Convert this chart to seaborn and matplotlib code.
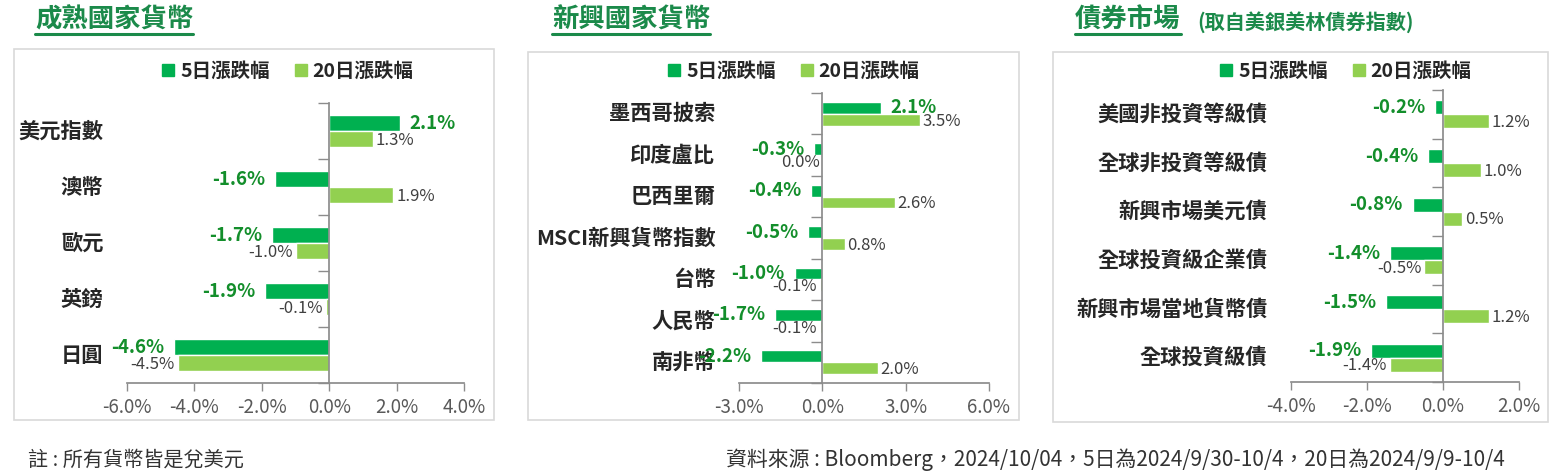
import matplotlib
matplotlib.use("Agg")
import matplotlib.pyplot as plt
import seaborn as sns
import pandas as pd
from matplotlib.lines import Line2D
from matplotlib.patches import Rectangle
from matplotlib.ticker import FuncFormatter, FixedLocator
import matplotlib.transforms as mtransforms

# ------------------------
# Dados
# ------------------------
SERIES = ["5日漲跌幅", "20日漲跌幅"]

dev_names = ["美元指數", "澳幣", "歐元", "英鎊", "日圓"]
dev_5d = [2.1, -1.6, -1.7, -1.9, -4.6]
dev_20d = [1.3, 1.9, -1.0, -0.1, -4.5]

em_names = ["墨西哥披索", "印度盧比", "巴西里爾", "MSCI新興貨幣指數", "台幣", "人民幣", "南非幣"]
em_5d = [2.1, -0.3, -0.4, -0.5, -1.0, -1.7, -2.2]
em_20d = [3.5, 0.0, 2.6, 0.8, -0.1, -0.1, 2.0]

bond_names = ["美國非投資等級債", "全球非投資等級債", "新興市場美元債", "全球投資級企業債",
              "新興市場當地貨幣債", "全球投資級債"]
bond_5d = [-0.2, -0.4, -0.8, -1.4, -1.5, -1.9]
bond_20d = [1.2, 1.0, 0.5, -0.5, 1.2, -1.4]

TITLES = ["成熟國家貨幣", "新興國家貨幣", "債券市場"]
SUBTITLE = "(取自美銀美林債券指數)"
NOTE_LEFT = "註 : 所有貨幣皆是兌美元"
NOTE_RIGHT = "資料來源 : Bloomberg，2024/10/04，5日為2024/9/30-10/4，20日為2024/9/9-10/4"

# ------------------------
# Estilo
# ------------------------
C5 = "#00b050"
C20 = "#92d050"
LBL_GREEN = "#138e2b"
TITLE_GREEN = "#1b8a4a"
AXIS_GREY = "#8c8c8c"
FRAME_GREY = "#d9d9d9"

sns.set_theme(style="white")
plt.rcParams["font.family"] = ["Noto Sans CJK TC", "DejaVu Sans"]

W, H = 1554, 474
fig = plt.figure(figsize=(W / 100, H / 100), dpi=100)


def px_rect(l, t, r, b):
    return [l / W, 1 - b / H, (r - l) / W, (b - t) / H]


PANELS = [
    dict(names=dev_names, v5=dev_5d, v20=dev_20d, xlim=(-6, 4), step=2,
         ax=px_rect(127, 103, 464, 383), frame=(14, 49, 494, 420),
         title_x=35, legend_x=287),
    dict(names=em_names, v5=em_5d, v20=em_20d, xlim=(-3, 6), step=3,
         ax=px_rect(739, 93, 989, 383), frame=(528, 52, 1019, 420),
         title_x=552, legend_x=793),
    dict(names=bond_names, v5=bond_5d, v20=bond_20d, xlim=(-4, 2), step=2,
         ax=px_rect(1291, 90, 1519, 382), frame=(1053, 52, 1548, 422),
         title_x=1075, legend_x=1345),
]


def draw_panel(p):
    n = len(p["names"])
    df = pd.DataFrame({
        "cat": p["names"] * 2,
        "val": list(p["v5"]) + list(p["v20"]),
        "serie": [SERIES[0]] * n + [SERIES[1]] * n,
    })
    ax = fig.add_axes(p["ax"])
    sns.barplot(data=df, y="cat", x="val", hue="serie", orient="h",
                palette=[C5, C20], width=0.57, gap=0, ax=ax,
                saturation=1, legend=False, order=p["names"], hue_order=SERIES)
    ax.set_xlim(*p["xlim"])
    ax.set_ylim(n - 0.5, -0.5)
    ax.set_xlabel("")
    ax.set_ylabel("")

    # eixo vertical no zero, ticks nas fronteiras das categorias
    for s in ["top", "right"]:
        ax.spines[s].set_visible(False)
    ax.spines["left"].set_position(("data", 0))
    ax.spines["left"].set_color(AXIS_GREY)
    ax.spines["bottom"].set_color(AXIS_GREY)
    ax.yaxis.set_major_locator(FixedLocator([i - 0.5 for i in range(n + 1)]))
    ax.set_yticklabels([])
    ax.tick_params(axis="y", length=8, width=1, color=AXIS_GREY, direction="out", left=True)
    lo, hi = p["xlim"]
    ticks = list(range(lo, hi + 1, p["step"]))
    ax.set_xticks(ticks)
    ax.xaxis.set_major_formatter(FuncFormatter(lambda v, _: f"{v:.1f}%"))
    ax.tick_params(axis="x", length=6, width=1, color=AXIS_GREY, direction="out",
                   bottom=True, labelsize=13.5, labelcolor="#595959", pad=4)

    # rótulos das categorias
    tr = mtransforms.blended_transform_factory(ax.transAxes, ax.transData)
    for i, name in enumerate(p["names"]):
        ax.annotate(name, xy=(0, i), xycoords=tr, xytext=(-17, 0),
                    textcoords="offset points", ha="right", va="center",
                    fontsize=15.3, fontweight="bold", color="#262626")

    # rótulos de dados
    off = 0.57 / 4
    for i in range(n):
        v5, v20 = p["v5"][i], p["v20"][i]
        ha = "left" if v5 > 0 else "right"
        ax.annotate(f"{v5:.1f}%", xy=(v5, i - off), xytext=(7 if v5 > 0 else -7, 0),
                    textcoords="offset points", ha=ha, va="center",
                    fontsize=13.5, fontweight="bold", color=LBL_GREEN)
        ha = "left" if v20 > 0 else "right"
        ax.annotate(f"{v20:.1f}%", xy=(v20, i + off), xytext=(2 if v20 > 0 else -2, -1),
                    textcoords="offset points", ha=ha, va="center",
                    fontsize=12, color="#404040")

    # moldura
    l, t, r, b = p["frame"]
    fig.add_artist(Rectangle((l / W, 1 - b / H), (r - l) / W, (b - t) / H,
                             transform=fig.transFigure, fill=False,
                             edgecolor=FRAME_GREY, linewidth=1.2))

    # legenda
    handles = [Line2D([], [], marker="s", linestyle="none", markersize=9,
                      markerfacecolor=c, markeredgecolor=c) for c in (C5, C20)]
    fig.legend(handles, SERIES, loc="center", ncol=2, frameon=False,
               bbox_to_anchor=(p["legend_x"] / W, 1 - 71 / H),
               prop={"size": 14, "weight": "bold"}, handletextpad=0.2,
               columnspacing=1.2, handlelength=0.8, labelcolor="#262626")
    return ax


for p in PANELS:
    draw_panel(p)

# títulos sublinhados
title_texts = []
for p, t in zip(PANELS, TITLES):
    txt = fig.text(p["title_x"] / W, 1 - 20 / H, t, ha="left", va="center",
                   fontsize=19, fontweight="bold", color=TITLE_GREEN)
    title_texts.append(txt)
fig.text(1197 / W, 1 - 22 / H, SUBTITLE, ha="left", va="center",
         fontsize=14.5, fontweight="bold", color=TITLE_GREEN)

fig.canvas.draw()
renderer = fig.canvas.get_renderer()
for txt in title_texts:
    bb = txt.get_window_extent(renderer)
    fig.add_artist(Line2D([bb.x0 / W, bb.x1 / W], [1 - 34 / H, 1 - 34 / H],
                          transform=fig.transFigure, color=TITLE_GREEN, linewidth=2.2))

# notas de rodapé
fig.text(28 / W, 1 - 460 / H, NOTE_LEFT, ha="left", va="center", fontsize=14.5, color="#333333")
fig.text(1505 / W, 1 - 460 / H, NOTE_RIGHT, ha="right", va="center", fontsize=15, color="#333333")

fig.savefig("out.png", dpi=100)
